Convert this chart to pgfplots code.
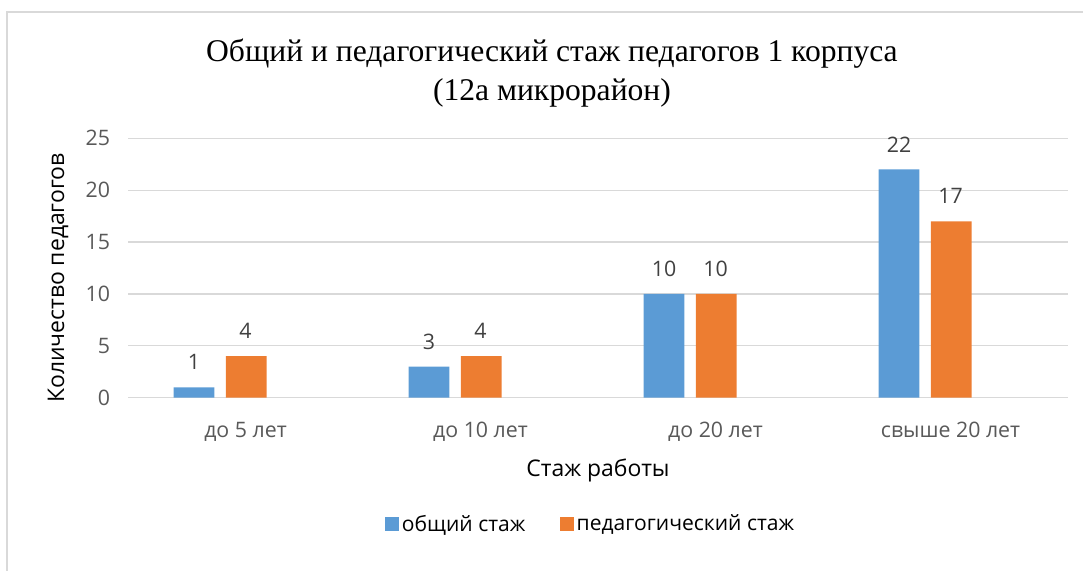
\documentclass[border=0pt]{standalone}
\usepackage{fontspec}
\setmainfont{Liberation Serif}
\newfontfamily\sans{Open Sans}
\usepackage{pgfplots}
\pgfplotsset{compat=1.18}
\definecolor{cblue}{HTML}{5B9BD5}
\definecolor{corange}{HTML}{ED7D31}
\definecolor{cgrid}{HTML}{D9D9D9}
\definecolor{ctick}{HTML}{595959}
\definecolor{clab}{HTML}{404040}
\begin{document}
\begin{tikzpicture}[x=0.75pt,y=0.75pt]
\path[use as bounding box] (0,0) rectangle (1083,571);
\draw[cgrid, line width=1.1pt] (7,0) -- (7,559) -- (1083,559);
\begin{axis}[
  at={(96pt,129.97pt)}, anchor=south west,
  scale only axis, width=705pt, height=194.55pt,
  xmin=-0.5, xmax=3.5, ymin=0, ymax=25,
  ytick={0,5,...,25},
  xtick={0,1,2,3},
  xticklabels={до 5 лет, до 10 лет, до 20 лет, свыше 20 лет},
  axis line style={draw=none},
  axis x line*=bottom,
  x axis line style={draw=cgrid, line width=0.9pt},
  ymajorgrids, grid style={cgrid, line width=0.9pt},
  major tick length=0pt,
  /pgf/number format/assume math mode=true,
  ticklabel style={font=\sans\fontsize{16}{18}\selectfont, text=ctick},
  yticklabel style={xshift=-10pt},
  xticklabel style={yshift=-15pt},
  title={Общий и педагогический стаж педагогов 1 корпуса\\(12а микрорайон)},
  title style={font=\fontsize{23.7}{29}\selectfont, align=center, at={(rel axis cs:0.451,1.221)}, anchor=center},
  xlabel={Стаж работы},
  xlabel style={font=\sans\fontsize{17.2}{20}\selectfont, at={(rel axis cs:0.5,-0.279)}, anchor=center},
  ylabel={Количество педагогов},
  ylabel style={font=\sans\fontsize{17.2}{20}\selectfont, at={(rel axis cs:-0.0745,0.4615)}, anchor=center, rotate=0},
  legend style={at={(rel axis cs:0.4926,-0.487)}, anchor=center, draw=none, fill=none,
    font=\sans\fontsize{15.8}{18}\selectfont, legend columns=2,
    /tikz/every even column/.append style={column sep=24pt},
    /tikz/every odd column/.append style={column sep=0pt}},
  legend image code/.code={\fill[#1] (0pt,-5.25pt) rectangle (10.5pt,5.25pt);},
  nodes near coords,
  every node near coord/.append style={font=\sans\fontsize{16}{18}\selectfont, text=clab, anchor=center, yshift=18.75pt},
]
\addplot[ybar, bar width=0.173, bar shift=-0.219, fill=cblue, draw=none,
  every node near coord/.append style={xshift=-38.6pt}] coordinates {(0,1) (1,3) (2,10) (3,22)};
\addlegendentry{общий стаж}
\addplot[ybar, bar width=0.173, bar shift=0.0035, fill=corange, draw=none] coordinates {(0,4) (1,4) (2,10) (3,17)};
\addlegendentry{педагогический стаж}
\end{axis}
\end{tikzpicture}
\end{document}
